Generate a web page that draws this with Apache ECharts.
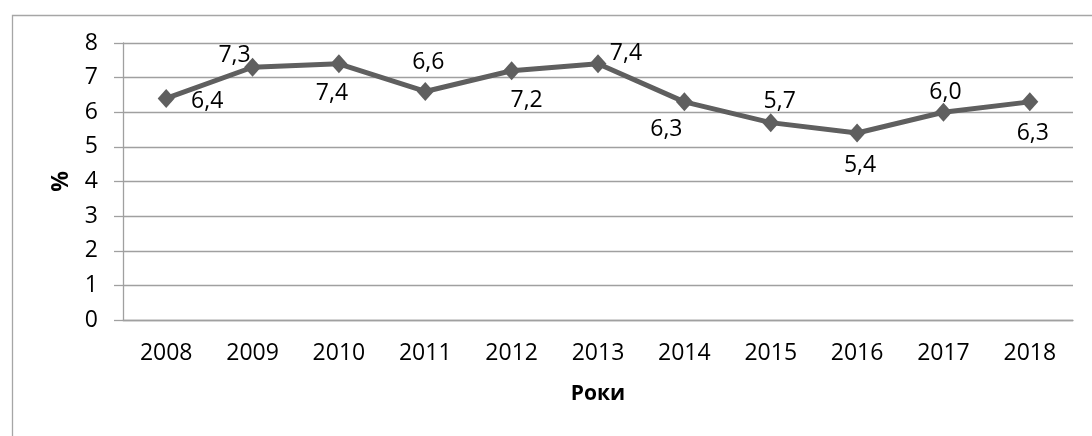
<!DOCTYPE html>
<html>
<head>
<meta charset="utf-8">
<script src="https://cdn.jsdelivr.net/npm/echarts@6/dist/echarts.min.js"></script>
<style>html,body{margin:0;padding:0;background:#fff}#c{width:1092px;height:436px}</style>
</head>
<body>
<div id="c"></div>
<script>
var years = ['2008','2009','2010','2011','2012','2013','2014','2015','2016','2017','2018'];
var values = [6.4, 7.3, 7.4, 6.6, 7.2, 7.4, 6.3, 5.7, 5.4, 6.0, 6.3];
var yTicks = [0,1,2,3,4,5,6,7,8];
var labelOffsets = [[41,3],[-18,-12],[-7,30],[3,-29],[15,30],[28,-10],[-18,28],[9,-21],[3,32],[2,-20],[3,32]];

var FONT = '"Open Sans", "Noto Sans", sans-serif';
var chart = echarts.init(document.getElementById('c'));
var seriesData = values.map(function(v,i){
  return {value: v, label: {offset: labelOffsets[i]}};
});
chart.setOption({
  animation: false,
  backgroundColor: '#fff',
  graphic: [{
    type: 'rect', left: 10, top: 13,
    shape: {x: 0.5, y: 0.5, width: 1200, height: 600},
    style: {fill: 'none', stroke: '#a6a6a6', lineWidth: 1.3}
  }],
  grid: {left: 123, right: 19, top: 43, bottom: 116},
  xAxis: {
    type: 'category', data: years, boundaryGap: true,
    name: 'Роки', nameLocation: 'middle', nameGap: 64,
    nameTextStyle: {fontFamily: FONT, fontSize: 21, fontWeight: 'bold', color: '#000'},
    axisLine: {show: true, lineStyle: {color: '#a0a0a0', width: 1.3}},
    axisTick: {show: false},
    axisLabel: {fontFamily: FONT, fontSize: 23, color: '#000', margin: 22}
  },
  yAxis: {
    type: 'value', min: yTicks[0], max: yTicks[yTicks.length-1], interval: 1,
    name: '%', nameLocation: 'middle', nameGap: 50, nameRotate: 90,
    nameTextStyle: {fontFamily: FONT, fontSize: 23, fontWeight: 'bold', color: '#000'},
    axisLine: {show: true, lineStyle: {color: '#a0a0a0', width: 1.3}},
    axisTick: {show: true, length: 9, lineStyle: {color: '#a0a0a0', width: 1.3}},
    splitLine: {show: true, lineStyle: {color: '#a0a0a0', width: 1.3}},
    axisLabel: {fontFamily: FONT, fontSize: 23, color: '#000', margin: 25}
  },
  series: [{
    type: 'line', data: seriesData,
    symbol: 'diamond', symbolSize: [17, 19],
    lineStyle: {color: '#5f5f5f', width: 5},
    itemStyle: {color: '#5f5f5f'},
    label: {
      show: true, position: 'inside', color: '#000',
      fontFamily: FONT, fontSize: 23,
      formatter: function(p){ return p.value.toFixed(1).replace('.', ','); }
    }
  }]
});
</script>
</body>
</html>
